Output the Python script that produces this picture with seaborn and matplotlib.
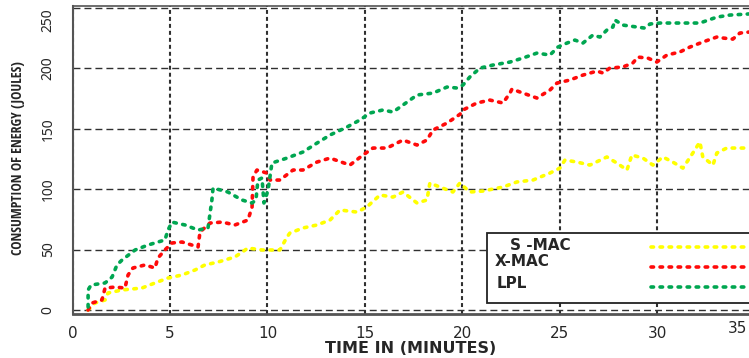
import matplotlib
matplotlib.use('Agg')
import matplotlib.pyplot as plt
import matplotlib.transforms as mtransforms
from matplotlib.lines import Line2D
import pandas as pd
import seaborn as sns

# values
protocols = ['S -MAC', 'X-MAC', 'LPL']
colors = ['#FFFF00', '#FF0A0A', '#00A651']

smac_time = [0.8, 1.15, 1.67, 1.82, 2.54, 3.56, 4.23, 4.9, 5.62, 6.28, 6.79, 7.46, 8.33, 9.0, 9.72,
             10.64, 11.0, 11.15, 11.82, 12.54, 13.21, 13.72, 14.59, 15.1, 15.77, 16.44, 16.95, 17.67,
             18.18, 18.33, 18.85, 19.51, 19.87, 20.38, 21.05, 22.08, 22.79, 23.62, 24.49, 25.0, 25.26,
             25.87, 26.54, 27.41, 27.92, 28.44, 28.69, 29.26, 29.77, 30.28, 30.79, 31.31, 31.82, 32.18,
             32.33, 32.85, 33.05, 33.56, 34.08, 34.59, 35.3]
smac_energy = [0, 5.8, 8.3, 14.1, 16.6, 18.2, 22.4, 26.5, 29.0, 33.1, 37.3, 39.7, 43.9, 51.3, 49.7,
               49.7, 60.4, 63.7, 67.9, 70.4, 74.5, 82.8, 81.1, 85.3, 95.2, 93.5, 97.7, 88.6,
               91.1, 105.1, 101.8, 97.7, 105.1, 97.7, 98.5, 101.8, 106.0, 107.6, 113.4, 117.5, 124.2,
               122.5, 120.0, 126.7, 121.7, 115.9, 128.3, 125.8, 120.0, 126.7, 122.5, 117.5, 130.0, 139.1,
               126.7, 120.0, 130.0, 134.1, 134.1, 134.1, 134.1]

xmac_time = [0.8, 1.0, 1.51, 1.67, 2.18, 2.69, 2.85, 3.1, 3.72, 4.23, 4.38, 4.74, 5.1, 5.62, 6.44,
             6.54, 7.05, 7.67, 8.33, 9.0, 9.21, 9.26, 9.46, 9.97, 10.13, 10.64, 11.31, 11.82, 12.54,
             13.21, 14.23, 14.9, 15.41, 16.13, 16.95, 17.67, 18.18, 18.49, 19.21, 19.87, 20.03, 20.74,
             21.41, 22.08, 22.44, 22.54, 22.95, 23.82, 24.49, 24.85, 25.51, 26.18, 26.9, 27.21, 27.56,
             28.23, 28.74, 29.0, 29.51, 29.97, 30.49, 31.15, 31.67, 32.33, 33.05, 33.36, 33.87, 34.23,
             34.69, 35.3]
xmac_energy = [0, 5.8, 8.3, 18.2, 19.0, 18.2, 29.0, 34.8, 37.3, 34.8, 43.0, 49.7, 55.5, 56.3, 52.2,
               64.6, 72.0, 72.8, 70.4, 74.5, 85.3, 110.1, 115.9, 113.4, 107.6, 107.6, 115.9, 115.9, 122.5,
               125.8, 120.0, 128.3, 134.1, 134.1, 140.7, 136.6, 140.7, 149.0, 154.8, 162.0, 165.6, 171.4,
               173.8, 171.4, 179.6, 182.9, 180.5, 175.5, 182.1, 187.9, 190.4, 194.5, 197.8, 196.2, 200.3,
               201.2, 204.5, 209.4, 208.6, 205.3, 211.1, 213.6, 217.7, 221.9, 226.0, 225.2, 224.3, 229.3,
               230.1, 231.8]

lpl_time = [0.8, 0.8, 0.95, 1.67, 2.03, 2.28, 2.54, 3.21, 3.87, 4.74, 4.9, 5.1, 5.77, 6.44, 6.95,
            7.15, 7.21, 7.97, 8.69, 9.21, 9.41, 9.51, 9.72, 9.82, 10.03, 10.23, 11.0, 11.82, 12.54,
            13.21, 14.08, 14.74, 15.26, 15.92, 16.44, 16.95, 17.67, 18.49, 19.21, 19.72, 20.03, 20.38,
            20.9, 21.56, 22.44, 23.1, 23.82, 24.49, 24.9, 25.36, 25.77, 26.18, 26.69, 27.05, 27.41,
            27.72, 27.82, 28.23, 28.95, 29.36, 29.62, 30.13, 30.79, 31.67, 32.18, 33.05, 33.72, 34.59,
            35.3]
lpl_energy = [2.5, 16.6, 20.7, 22.4, 27.3, 37.3, 41.4, 49.7, 53.8, 58.0, 66.2, 72.8, 70.4, 66.2, 67.9,
              91.1, 101.0, 97.7, 91.1, 88.6, 91.1, 107.6, 109.3, 88.6, 99.3, 121.7, 125.8, 130.8, 138.2,
              144.9, 151.5, 157.3, 163.1, 165.6, 163.9, 169.7, 178.0, 179.6, 184.6, 183.8, 186.3, 192.9,
              200.3, 202.8, 205.3, 208.6, 212.7, 211.1, 217.7, 221.0, 223.5, 221.0, 227.6, 226.0, 231.8,
              234.3, 240.1, 235.9, 234.3, 233.4, 236.8, 237.6, 237.6, 237.6, 237.6, 242.5, 244.2, 245.0,
              245.9]

x_ticks = [0, 5, 10, 15, 20, 25, 30]
y_ticks = [0, 50, 100, 150, 200, 250]

frames = []
for name, t, e in zip(protocols, [smac_time, xmac_time, lpl_time], [smac_energy, xmac_energy, lpl_energy]):
    frames.append(pd.DataFrame({'time': t, 'energy': e, 'protocol': name}))
df = pd.concat(frames, ignore_index=True)

sns.set_style('white')
plt.rcParams['font.family'] = ['DejaVu Sans']

W, H = 749, 358
fig = plt.figure(figsize=(W / 100, H / 100), dpi=100)
ax = fig.add_axes([72.5 / W, 44 / H, 676.5 / W, 308 / H])

sns.lineplot(data=df, x='time', y='energy', hue='protocol', hue_order=protocols,
             palette=dict(zip(protocols, colors)), estimator=None, sort=False,
             legend=False, lw=2.6, ax=ax)
line_dashes = (0.7, 1.8)
for ln in ax.lines:
    ln.set_dashes(line_dashes)
    ln.set_dash_capstyle('round')

ax.set_xlim(0, 34.7)
ax.set_ylim(-3.3, 251.7)
ax.set_xticks(x_ticks)
ax.set_yticks(y_ticks)
ax.xaxis.grid(True, linestyle=(0, (1.9, 1.45)), color='#303030', lw=1.5)
ax.yaxis.grid(True, linestyle=(0, (5, 2.9)), color='#303030', lw=1.0)

ax.tick_params(axis='both', length=0)
ax.tick_params(axis='x', pad=9, labelsize=11)
ax.tick_params(axis='y', pad=12, labelsize=10, labelrotation=90)
for lab in ax.get_yticklabels():
    lab.set_family(['Noto Sans'])
    lab.set_stretch('condensed')
    lab.set_va('center')
ax.get_yticklabels()[-1].set_va('top')

# last tick label sits at the cropped right edge
trans = mtransforms.blended_transform_factory(ax.transData, ax.transAxes)
ax.text(34.1, -0.0487, '35', transform=trans, ha='center', va='center', fontsize=11)

for side in ['left', 'bottom', 'top']:
    ax.spines[side].set_color('#555555')
ax.spines['left'].set_linewidth(1.5)
ax.spines['bottom'].set_linewidth(2.0)
ax.spines['top'].set_linewidth(1.2)
ax.spines['right'].set_visible(False)

ax.set_xlabel('TIME IN (MINUTES)', fontsize=11.5, fontweight='bold')
ax.xaxis.set_label_coords(0.5, -0.112)
ax.xaxis.label.set_va('center')
ax.set_ylabel('CONSUMPTION OF ENERGY (JOULES)', fontsize=10, fontweight='bold',
              family=['Open Sans Condensed', 'Noto Sans'], fontstretch='condensed')
ax.yaxis.set_label_coords(-0.0806, 0.506)
ax.yaxis.label.set_va('center')

handles = [Line2D([], [], color=c, lw=2.6, dashes=line_dashes, dash_capstyle='round') for c in colors]
leg = ax.legend(handles, ['', '', ''], loc='upper left', bbox_to_anchor=(0.6127, 0.263),
                borderaxespad=0, markerfirst=False, fancybox=False, frameon=True,
                edgecolor='#222222', framealpha=1, fontsize=10, borderpad=0.6,
                labelspacing=0.4, handlelength=9, handletextpad=11.2)
leg.get_frame().set_linewidth(1.3)

label_pos = [(510, 246), (495, 262), (497, 283)]
for name, (px, py) in zip(protocols, label_pos):
    fig.text(px / W, 1 - py / H, name, ha='left', va='center', fontsize=11, fontweight='bold')

fig.savefig('out.png', dpi=100)
